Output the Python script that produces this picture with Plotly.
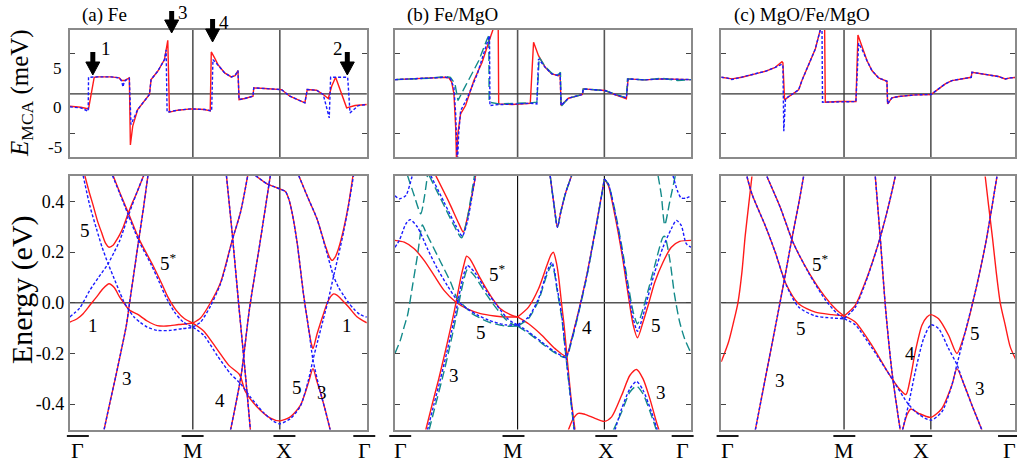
import plotly.graph_objects as go

# ---------------- data ----------------
KPOS = [0.0, 1.414, 2.414, 3.414]
KLABELS = ['Γ', 'M', 'X', 'Γ']
EMCA_TICKS = [-5, 5]
EMCA_LABELS = ['5', '0', '-5']
E_TICKS = [-0.4, -0.2, 0.0, 0.2, 0.4]
E_TICKTEXT = ['-0.4', '-0.2', '0.0', '0.2', '0.4']
PANEL_TITLES = ['(a) Fe', '(b) Fe/MgO', '(c) MgO/Fe/MgO']
ARROW_LABELS = ['1', '3', '4', '2']

# panel (a) top: E_MCA (meV)
A_TOP_RED = [(0, -1.54), (0.127, -1.67), (0.215, -1.875), (0.28, 2.08), (0.319, 2.13), (0.473, 2.13),
             (0.569, 2.0), (0.596, 1.67), (0.626, 1.67), (0.684, 2.0), (0.696, -6.4), (0.723, -4.04),
             (0.78, -1.96), (0.857, -0.92), (0.915, -0.08), (0.934, 1.79), (1.01, 2.83), (1.088, 4.29),
             (1.107, 5.3), (1.126, 6.7), (1.145, -2.29), (1.24, -2.04), (1.395, -1.875), (1.549, -1.96),
             (1.614, -2.125), (1.626, 5.25), (1.664, 4.5), (1.703, 3.67), (1.78, 2.625), (1.856, 2.125),
             (1.9, 2.29), (1.933, 2.92), (1.945, -0.71), (2.01, -0.58), (2.106, -0.29), (2.114, 0.75),
             (2.24, 0.67), (2.433, 0.54), (2.529, -0.29), (2.702, -1.125), (2.729, 0.54), (2.836, 0.46),
             (2.913, -0.08), (2.971, -0.58), (3.01, 0.96), (3.055, 2.08), (3.182, -1.75), (3.278, -1.46),
             (3.414, -1.33)]
A_TOP_BLUE = [(0, -1.63), (0.127, -1.75), (0.211, -2.17), (0.215, 2.08), (0.319, 2.13), (0.473, 2.13),
              (0.569, 2.0), (0.596, 1.58), (0.611, 0.875), (0.626, 1.58), (0.684, 2.0), (0.703, -3.83),
              (0.78, -1.96), (0.857, -0.92), (0.915, -0.08), (0.934, 1.79), (1.01, 2.83), (1.088, 4.29),
              (1.107, 5.5), (1.118, -2.29), (1.24, -2.04), (1.395, -1.875), (1.549, -1.96), (1.63, -2.125),
              (1.645, 4.29), (1.703, 3.6), (1.78, 2.625), (1.856, 2.125), (1.9, 2.29), (1.933, 2.92),
              (1.945, -0.71), (2.01, -0.58), (2.106, -0.29), (2.114, 0.75), (2.24, 0.67), (2.433, 0.54),
              (2.529, -0.29), (2.702, -1.125), (2.729, 0.54), (2.836, 0.46), (2.913, -0.08), (2.982, -3.0),
              (2.998, 2.08), (3.194, 2.08), (3.221, -2.375), (3.317, -1.46), (3.414, -1.33)]

# panel (b) top
B_TOP_RED = [(0, 1.79), (0.203, 1.875), (0.394, 1.96), (0.585, 2.08), (0.623, 2.0), (0.654, 1.46),
             (0.68, 0.0), (0.70, -4.17), (0.711, -9.0), (0.725, -5.0), (0.757, -2.5), (0.814, -1.46),
             (0.91, 1.67), (1.005, 3.96), (1.1, 7.08), (1.16, 9.0), (1.19, 9.0), (1.196, -1.25),
             (1.35, -1.33), (1.56, -1.17), (1.598, 6.46), (1.655, 4.79), (1.732, 3.33), (1.808, 2.5),
             (1.885, 2.29), (1.904, 2.58), (1.915, -1.46), (2.0, -0.54), (2.114, -0.21), (2.16, -0.08),
             (2.171, 0.625), (2.305, 0.5), (2.42, 0.42), (2.534, -0.08), (2.668, -0.625), (2.687, 1.875),
             (2.878, 1.75), (3.07, 1.875), (3.26, 1.79), (3.414, 1.79)]
B_TOP_BLUE = [(0, 1.79), (0.203, 1.875), (0.394, 1.96), (0.585, 2.08), (0.64, 1.9), (0.68, 0.8),
              (0.70, -2.5), (0.72, -9.0), (0.735, -5.0), (0.757, -2.1), (0.83, -0.6), (0.95, 2.5),
              (1.045, 5.8), (1.09, 7.3), (1.095, -1.46), (1.196, -1.33), (1.35, -1.3), (1.56, -1.17),
              (1.636, -1.25), (1.655, 4.375), (1.732, 3.33), (1.808, 2.5), (1.885, 2.29), (1.904, 2.58),
              (1.915, -1.46), (2.0, -0.54), (2.114, -0.21), (2.16, -0.08), (2.171, 0.625), (2.305, 0.5),
              (2.42, 0.42), (2.534, -0.08), (2.668, -0.5), (2.687, 1.875), (2.878, 1.75), (3.07, 1.875),
              (3.26, 1.79), (3.414, 1.79)]
B_TOP_TEAL = [(0, 1.79), (0.203, 1.875), (0.394, 1.96), (0.585, 2.17), (0.64, 2.08), (0.692, 1.25),
              (0.727, -0.83), (0.795, 0.625), (0.967, 4.17), (1.063, 6.875), (1.082, 7.3), (1.086, -1.04),
              (1.196, -1.25), (1.56, -1.125), (1.636, -1.04), (1.663, 4.58), (1.732, 3.42), (1.808, 2.58),
              (1.885, 2.42), (1.908, 2.7), (1.915, -1.58), (2.0, -0.54), (2.114, -0.21), (2.16, -0.08),
              (2.171, 0.625), (2.305, 0.5), (2.42, 0.42), (2.534, 0.0), (2.668, -0.5), (2.68, 1.875),
              (2.878, 1.75), (3.07, 1.96), (3.26, 1.67), (3.414, 1.79)]

# panel (c) top
C_TOP_RED = [(0, 2.08), (0.065, 2.0), (0.123, 1.875), (0.238, 2.08), (0.392, 2.5), (0.507, 2.83),
             (0.622, 3.33), (0.699, 4.04), (0.71, 3.9), (0.729, -0.75), (0.795, -0.21), (0.891, 0.5),
             (0.929, 1.67), (1.006, 3.54), (1.083, 5.625), (1.14, 8.0), (1.17, 9.0), (1.19, 9.0),
             (1.198, -1.04), (1.351, -0.96), (1.551, -0.96), (1.574, 7.375), (1.62, 5.83), (1.678, 4.17),
             (1.735, 2.92), (1.812, 2.0), (1.908, 1.58), (1.916, -1.25), (1.965, -0.5), (2.042, -0.33),
             (2.234, -0.125), (2.415, -0.08), (2.503, 0.625), (2.58, 1.25), (2.656, 1.67), (2.81, 2.0),
             (2.879, 2.08), (2.887, 2.71), (3.002, 2.5), (3.194, 2.17), (3.271, 1.875), (3.328, 2.0),
             (3.414, 2.08)]
C_TOP_BLUE = [(0, 2.08), (0.065, 2.0), (0.123, 1.8), (0.238, 2.08), (0.392, 2.5), (0.507, 2.83),
              (0.622, 3.33), (0.699, 3.7), (0.71, 3.6), (0.72, -4.67), (0.74, -0.6), (0.795, -0.21),
              (0.891, 0.5), (0.929, 1.67), (1.006, 3.54), (1.083, 5.625), (1.14, 8.0), (1.16, 9.0),
              (1.166, -1.04), (1.351, -0.96), (1.551, -0.96), (1.582, 6.33), (1.62, 5.6), (1.678, 4.17),
              (1.735, 2.92), (1.812, 2.0), (1.908, 1.58), (1.916, -1.25), (1.965, -0.5), (2.042, -0.33),
              (2.234, -0.125), (2.415, -0.08), (2.503, 0.625), (2.58, 1.25), (2.656, 1.67), (2.81, 2.0),
              (2.879, 2.08), (2.887, 2.71), (3.002, 2.5), (3.194, 2.17), (3.271, 1.875), (3.328, 2.0),
              (3.414, 2.08)]

# panel (a) bands (eV)
A_RED_LOW = [(0, -0.076), (0.08, -0.064), (0.153, -0.043), (0.23, -0.01), (0.306, 0.022), (0.38, 0.055),
             (0.451, 0.075), (0.51, 0.06), (0.573, 0.022), (0.63, -0.005), (0.688, -0.03), (0.776, -0.045),
             (0.89, -0.072), (1.005, -0.09), (1.08, -0.092), (1.158, -0.09), (1.25, -0.086),
             (1.35, -0.083), (1.414, -0.08)]
A_RED_UP = [(0.172, 0.502), (0.22, 0.44), (0.268, 0.384), (0.32, 0.32), (0.363, 0.279), (0.41, 0.235),
            (0.451, 0.219), (0.5, 0.228), (0.535, 0.246), (0.575, 0.27), (0.612, 0.297), (0.669, 0.351),
            (0.72, 0.395), (0.765, 0.43), (0.849, 0.502)]
A_BLUE_1 = [(0, -0.056), (0.115, -0.02), (0.229, 0.049), (0.33, 0.1), (0.44, 0.154), (0.51, 0.2),
            (0.573, 0.245), (0.62, 0.29), (0.68, 0.35), (0.765, 0.43), (0.849, 0.502)]
A_BLUE_5 = [(0.153, 0.502), (0.229, 0.384), (0.306, 0.292), (0.37, 0.22), (0.44, 0.154), (0.51, 0.095),
            (0.573, 0.042), (0.62, 0.005), (0.669, -0.024), (0.738, -0.056), (0.81, -0.078),
            (0.89, -0.096), (1.005, -0.109), (1.158, -0.109), (1.292, -0.102), (1.414, -0.098)]
A_RED_5S = [(0.497, 0.502), (0.58, 0.43), (0.669, 0.357), (0.803, 0.246), (0.956, 0.147), (1.05, 0.08),
            (1.128, 0.022), (1.223, -0.03), (1.319, -0.063), (1.414, -0.08)]
A_BLUE_5S = [(0.49, 0.502), (0.575, 0.43), (0.66, 0.357), (0.79, 0.246), (0.94, 0.147), (1.03, 0.08),
             (1.105, 0.022), (1.2, -0.035), (1.3, -0.075), (1.414, -0.096)]
A_BAND3 = [(0.394, -0.5), (0.46, -0.395), (0.528, -0.29), (0.59, -0.19), (0.65, -0.089), (0.687, 0.0),
           (0.74, 0.125), (0.788, 0.239), (0.845, 0.37), (0.898, 0.502)]
A_RED_MUP = [(1.414, -0.08), (1.503, -0.06), (1.617, 0.0), (1.732, 0.079), (1.80, 0.16), (1.866, 0.246),
             (1.962, 0.357), (2.045, 0.502)]
A_BLUE_MUP = [(1.414, -0.096), (1.503, -0.076), (1.617, -0.013), (1.732, 0.075), (1.80, 0.155),
              (1.866, 0.246), (1.962, 0.357), (2.045, 0.502)]
A_RED_MLOW = [(1.414, -0.08), (1.541, -0.112), (1.694, -0.184), (1.828, -0.247), (1.95, -0.283),
              (2.018, -0.35), (2.153, -0.411), (2.306, -0.455), (2.414, -0.466), (2.535, -0.45),
              (2.65, -0.405), (2.745, -0.313), (2.795, -0.26), (2.84, -0.31), (2.879, -0.352),
              (2.937, -0.424), (2.994, -0.503)]
A_BLUE_MLOW = [(1.414, -0.096), (1.541, -0.129), (1.694, -0.208), (1.847, -0.28), (1.962, -0.319),
               (2.076, -0.372), (2.229, -0.434), (2.344, -0.468), (2.414, -0.477), (2.535, -0.457),
               (2.65, -0.408), (2.745, -0.302), (2.795, -0.225), (2.85, -0.15), (2.91, -0.07),
               (2.97, 0.01), (3.032, 0.105), (3.09, 0.19), (3.147, 0.28), (3.205, 0.385), (3.261, 0.502)]
A_STEEP1 = [(1.80, 0.502), (1.865, 0.279), (1.945, -0.02), (2.02, -0.29), (2.076, -0.503)]
A_STEEP2 = [(2.305, 0.502), (2.187, 0.239), (2.065, -0.024), (1.969, -0.286), (1.847, -0.503)]
A_RED_XI = [(2.133, 0.502), (2.267, 0.469), (2.362, 0.456), (2.414, 0.449), (2.478, 0.439), (2.516, 0.41),
            (2.554, 0.357), (2.612, 0.239), (2.688, 0.029), (2.745, -0.102), (2.775, -0.16),
            (2.795, -0.181), (2.84, -0.125), (2.9, -0.06), (2.96, 0.0), (3.0, 0.025), (3.032, 0.035),
            (3.07, 0.03), (3.109, 0.018), (3.205, -0.017), (3.3, -0.055), (3.414, -0.079)]
A_BLUE_XI = [(2.133, 0.502), (2.267, 0.469), (2.362, 0.456), (2.414, 0.449), (2.478, 0.439), (2.516, 0.41),
             (2.554, 0.357), (2.612, 0.239), (2.688, 0.029), (2.745, -0.102), (2.795, -0.225),
             (2.879, -0.352), (2.937, -0.424), (2.994, -0.503)]
A_RED_XIII = [(2.631, 0.502), (2.726, 0.423), (2.841, 0.331), (2.937, 0.225), (2.985, 0.18),
              (3.015, 0.167), (3.05, 0.18), (3.09, 0.215), (3.147, 0.29), (3.205, 0.39), (3.255, 0.502)]
A_BLUE_XIII = [(2.631, 0.502), (2.726, 0.423), (2.841, 0.331), (2.937, 0.219), (3.032, 0.105),
               (3.09, 0.06), (3.147, 0.029), (3.205, 0.0), (3.262, -0.024), (3.33, -0.045), (3.414, -0.057)]

# panel (b) bands
B_RED_1 = [(0, 0.246), (0.107, 0.239), (0.222, 0.213), (0.336, 0.167), (0.451, 0.108), (0.566, 0.049),
           (0.70, 0.003), (0.834, -0.024), (0.986, -0.043), (1.15, -0.052), (1.3, -0.056), (1.414, -0.056)]
B_BLUE_1 = [(0, 0.219), (0.05, 0.246), (0.126, 0.311), (0.176, 0.328), (0.26, 0.298), (0.375, 0.213),
            (0.49, 0.134), (0.604, 0.068), (0.719, 0.009), (0.834, -0.024), (0.95, -0.048),
            (1.082, -0.069), (1.273, -0.087), (1.414, -0.087)]
B_TEAL_1 = [(0, -0.2), (0.06, -0.15), (0.11, -0.09), (0.145, -0.05), (0.203, 0.068), (0.26, 0.187),
            (0.317, 0.307), (0.36, 0.275), (0.413, 0.239), (0.528, 0.16), (0.642, 0.081), (0.711, 0.022),
            (0.81, -0.017), (0.89, -0.043), (1.082, -0.076), (1.273, -0.092), (1.414, -0.092)]
B_RED_2 = [(0.355, -0.502), (0.43, -0.4), (0.505, -0.3), (0.575, -0.2), (0.635, -0.11), (0.68, -0.04),
           (0.72, 0.03), (0.76, 0.1), (0.795, 0.15), (0.826, 0.184), (0.86, 0.175), (0.89, 0.158),
           (0.986, 0.095), (1.1, 0.029), (1.216, -0.024), (1.35, -0.05), (1.414, -0.056)]
B_BLUE_2 = [(0.375, -0.502), (0.45, -0.4), (0.525, -0.3), (0.595, -0.2), (0.655, -0.11), (0.70, -0.04),
            (0.74, 0.03), (0.78, 0.095), (0.834, 0.147), (0.88, 0.135), (0.93, 0.115), (1.063, 0.042),
            (1.177, -0.011), (1.29, -0.06), (1.36, -0.078), (1.414, -0.087)]
B_TEAL_2 = [(0.394, -0.502), (0.47, -0.4), (0.545, -0.3), (0.615, -0.2), (0.672, -0.11), (0.715, -0.04),
            (0.755, 0.03), (0.79, 0.085), (0.834, 0.131), (0.88, 0.12), (0.93, 0.1), (1.06, 0.03),
            (1.177, -0.025), (1.29, -0.07), (1.36, -0.085), (1.414, -0.092)]
B_RED_V = [(0.47, 0.502), (0.623, 0.397), (0.738, 0.311), (0.788, 0.279), (0.84, 0.344), (0.902, 0.449),
           (0.929, 0.502)]
B_BLUE_V = [(0.413, 0.502), (0.566, 0.397), (0.70, 0.305), (0.776, 0.263), (0.834, 0.318), (0.89, 0.423),
            (0.929, 0.502)]
B_TEAL_V = [(0.394, 0.502), (0.547, 0.397), (0.68, 0.305), (0.768, 0.256), (0.826, 0.318), (0.88, 0.423),
            (0.917, 0.502)]
B_BLUE_TL = [(0, 0.422), (0.05, 0.41), (0.126, 0.423), (0.18, 0.476), (0.2, 0.502)]
B_TEAL_TL = [(0.145, 0.502), (0.222, 0.423), (0.298, 0.351), (0.336, 0.41), (0.375, 0.502)]
B_RED_3 = [(1.414, -0.056), (1.54, -0.017), (1.655, 0.055), (1.751, 0.147), (1.8, 0.19), (1.827, 0.199),
           (1.86, 0.16), (1.885, 0.107), (1.923, -0.01), (1.95, -0.089), (1.98, -0.2), (2.03, -0.377),
           (2.076, -0.502)]
B_BLUE_3 = [(1.414, -0.087), (1.54, -0.056), (1.655, 0.016), (1.751, 0.121), (1.808, 0.16), (1.84, 0.125),
            (1.865, 0.068), (1.923, -0.05), (1.967, -0.194), (2.03, -0.39), (2.068, -0.502)]
B_TEAL_3 = [(1.414, -0.092), (1.54, -0.062), (1.655, 0.008), (1.751, 0.11), (1.808, 0.149), (1.84, 0.115),
            (1.865, 0.058), (1.923, -0.06), (1.967, -0.2), (2.03, -0.395), (2.065, -0.502)]
B_RED_4 = [(1.414, -0.056), (1.54, -0.083), (1.693, -0.128), (1.846, -0.181), (1.972, -0.21),
           (2.037, -0.142), (2.114, -0.037), (2.21, 0.107), (2.305, 0.278), (2.374, 0.409), (2.414, 0.488)]
B_BLUE_4 = [(1.414, -0.087), (1.54, -0.115), (1.693, -0.155), (1.846, -0.194), (1.972, -0.214),
            (2.037, -0.145), (2.114, -0.04), (2.21, 0.105), (2.305, 0.276), (2.374, 0.407), (2.414, 0.488)]
B_TEAL_4 = [(1.414, -0.092), (1.54, -0.12), (1.693, -0.16), (1.846, -0.198), (1.972, -0.216),
            (2.037, -0.15), (2.114, -0.045), (2.21, 0.1), (2.305, 0.272), (2.374, 0.405), (2.414, 0.488)]
B_V2 = [(1.789, 0.502), (1.835, 0.383), (1.873, 0.298), (1.911, 0.357), (1.969, 0.435), (2.037, 0.502)]
B_RED_XG = [(2.414, 0.488), (2.46, 0.463), (2.536, 0.344), (2.613, 0.2), (2.69, 0.029), (2.747, -0.089),
            (2.796, -0.138), (2.86, -0.076), (2.918, -0.011), (2.995, 0.081), (3.09, 0.16), (3.186, 0.219),
            (3.282, 0.242), (3.414, 0.246)]
B_BLUE_XG = [(2.414, 0.488), (2.46, 0.468), (2.536, 0.357), (2.613, 0.213), (2.69, 0.048), (2.747, -0.063),
             (2.796, -0.113), (2.86, -0.05), (2.918, 0.026), (2.995, 0.121), (3.09, 0.219), (3.186, 0.292),
             (3.243, 0.325), (3.3, 0.305), (3.358, 0.233), (3.414, 0.219)]
B_TEAL_XG = [(2.414, 0.488), (2.46, 0.468), (2.536, 0.364), (2.613, 0.226), (2.69, 0.068), (2.747, -0.037),
             (2.796, -0.083), (2.86, -0.024), (2.918, 0.048), (2.995, 0.147), (3.09, 0.259), (3.11, 0.262),
             (3.167, 0.173), (3.224, 0.029), (3.282, -0.076), (3.339, -0.142), (3.414, -0.2)]
B_TEAL_TR = [(3.033, 0.502), (3.071, 0.423), (3.11, 0.307), (3.167, 0.397), (3.232, 0.502)]
B_BLUE_TR = [(3.205, 0.502), (3.255, 0.443), (3.3, 0.413), (3.358, 0.413), (3.414, 0.423)]
B_RED_XB = [(1.999, -0.502), (2.057, -0.456), (2.114, -0.436), (2.19, -0.44), (2.305, -0.456),
            (2.414, -0.468), (2.498, -0.45), (2.613, -0.365), (2.709, -0.286), (2.785, -0.263),
            (2.86, -0.3), (2.938, -0.378), (3.014, -0.47), (3.045, -0.503)]
B_BLUE_XB = [(2.536, -0.503), (2.613, -0.418), (2.709, -0.339), (2.785, -0.31), (2.86, -0.345),
             (2.957, -0.431), (3.026, -0.503)]
B_TEAL_XB = [(2.517, -0.503), (2.613, -0.431), (2.709, -0.352), (2.785, -0.329), (2.86, -0.36),
             (2.976, -0.464), (3.014, -0.503)]

# panel (c) bands
C_RED_1L = [(0, -0.233), (0.084, -0.155), (0.142, -0.076), (0.192, 0.0), (0.238, 0.121), (0.276, 0.265),
            (0.315, 0.383), (0.353, 0.498)]
C_RED_1R = [(3.04, 0.498), (3.079, 0.383), (3.125, 0.252), (3.167, 0.121), (3.213, 0.0), (3.271, -0.089),
            (3.328, -0.174), (3.414, -0.24)]
C_RED_5 = [(0.296, 0.498), (0.353, 0.429), (0.507, 0.304), (0.622, 0.199), (0.745, 0.075), (0.891, -0.004),
           (1.083, -0.037), (1.275, -0.047), (1.414, -0.052)]
C_BLUE_5 = [(0.296, 0.498), (0.353, 0.429), (0.507, 0.304), (0.622, 0.199), (0.745, 0.072), (0.891, -0.017),
            (1.083, -0.052), (1.275, -0.06), (1.414, -0.063)]
C_RED_5S = [(0.526, 0.498), (0.68, 0.376), (0.826, 0.239), (1.006, 0.121), (1.198, 0.022), (1.332, -0.03),
            (1.414, -0.052)]
C_BLUE_5S = [(0.526, 0.498), (0.68, 0.376), (0.826, 0.239), (1.006, 0.118), (1.198, 0.012), (1.332, -0.042),
             (1.414, -0.063)]
C_BAND3 = [(0.392, -0.502), (0.507, -0.299), (0.622, -0.096), (0.718, 0.075), (0.806, 0.239),
           (0.891, 0.389), (0.948, 0.498)]
C_RED_MUP = [(1.414, -0.052), (1.543, -0.01), (1.658, 0.081), (1.75, 0.17), (1.831, 0.258), (1.927, 0.383),
             (2.004, 0.498)]
C_BLUE_MUP = [(1.414, -0.063), (1.543, -0.018), (1.658, 0.076), (1.75, 0.168), (1.831, 0.258),
              (1.927, 0.383), (2.004, 0.498)]
C_STEEP = [(1.774, 0.498), (1.831, 0.258), (1.889, -0.01), (1.966, -0.273), (2.061, -0.502)]
C_RED_X1 = [(1.414, -0.052), (1.543, -0.076), (1.735, -0.168), (1.927, -0.279), (2.042, -0.336),
            (2.127, -0.362), (2.177, -0.299), (2.234, -0.194), (2.311, -0.089), (2.369, -0.056),
            (2.415, -0.047), (2.503, -0.063), (2.618, -0.128), (2.714, -0.2), (2.81, -0.115),
            (2.925, 0.042), (3.04, 0.225), (3.175, 0.498)]
C_RED_X2 = [(2.088, -0.502), (2.138, -0.443), (2.184, -0.419), (2.273, -0.436), (2.415, -0.452),
            (2.541, -0.417), (2.656, -0.325), (2.714, -0.26), (2.791, -0.318), (2.887, -0.404),
            (3.002, -0.502)]
C_BLUE_X1 = [(1.414, -0.063), (1.543, -0.087), (1.735, -0.178), (1.965, -0.299), (2.157, -0.401),
             (2.273, -0.44), (2.415, -0.463), (2.541, -0.43), (2.656, -0.325), (2.714, -0.244),
             (2.81, -0.115), (2.925, 0.042), (3.04, 0.225), (3.175, 0.498)]
C_BLUE_X2 = [(2.088, -0.502), (2.157, -0.401), (2.234, -0.273), (2.33, -0.142), (2.415, -0.087),
             (2.503, -0.102), (2.618, -0.181), (2.714, -0.244), (2.791, -0.318), (2.887, -0.404),
             (3.002, -0.502)]

# ---------------- figure ----------------
RED = '#ff1a1a'
BLUE = '#1a1aff'
TEAL = '#138a8a'
FONT = '"Liberation Serif", "Times New Roman", Times, serif'

fig = go.Figure()


def add(pts, n, color, dash='solid', width=1.4, shape='spline'):
    xs = [p[0] for p in pts]
    ys = [p[1] for p in pts]
    sfx = '' if n == 1 else str(n)
    fig.add_trace(go.Scatter(x=xs, y=ys, mode='lines',
                             line=dict(color=color, dash=dash, width=width, shape=shape, smoothing=0.7),
                             xaxis='x' + sfx, yaxis='y' + sfx, hoverinfo='skip'))


BDASH = '3px,2px'
TDASH = '9px,4px'

# top panels (linear)
add(A_TOP_RED, 1, RED, shape='linear')
add(A_TOP_BLUE, 1, BLUE, BDASH, shape='linear')
add(B_TOP_RED, 2, RED, shape='linear')
add(B_TOP_TEAL, 2, TEAL, TDASH, shape='linear')
add(B_TOP_BLUE, 2, BLUE, BDASH, shape='linear')
add(C_TOP_RED, 3, RED, shape='linear')
add(C_TOP_BLUE, 3, BLUE, BDASH, shape='linear')

# panel a bands
for c in [A_RED_LOW, A_RED_UP, A_RED_5S, A_BAND3, A_RED_MUP, A_RED_MLOW, A_STEEP1, A_STEEP2,
          A_RED_XI, A_RED_XIII]:
    add(c, 4, RED)
for c in [A_BLUE_1, A_BLUE_5, A_BLUE_5S, A_BAND3, A_BLUE_MUP, A_BLUE_MLOW, A_STEEP1, A_STEEP2,
          A_BLUE_XI, A_BLUE_XIII]:
    add(c, 4, BLUE, BDASH)

# panel b bands
for c in [B_RED_1, B_RED_2, B_RED_V, B_RED_3, B_RED_4, B_V2, B_RED_XG, B_RED_XB]:
    add(c, 5, RED)
for c in [B_TEAL_1, B_TEAL_2, B_TEAL_V, B_TEAL_TL, B_TEAL_3, B_TEAL_4, B_V2, B_TEAL_XG, B_TEAL_TR,
          B_TEAL_XB]:
    add(c, 5, TEAL, TDASH)
for c in [B_BLUE_1, B_BLUE_2, B_BLUE_V, B_BLUE_TL, B_BLUE_3, B_BLUE_4, B_V2, B_BLUE_XG, B_BLUE_TR,
          B_BLUE_XB]:
    add(c, 5, BLUE, BDASH)

# panel c bands
for c in [C_RED_1L, C_RED_1R, C_RED_5, C_RED_5S, C_BAND3, C_RED_MUP, C_STEEP, C_RED_X1, C_RED_X2]:
    add(c, 6, RED)
for c in [C_BLUE_5, C_BLUE_5S, C_BAND3, C_BLUE_MUP, C_STEEP, C_BLUE_X1, C_BLUE_X2]:
    add(c, 6, BLUE, BDASH)

XDOM = [[0.0688, 0.3614], [0.3891, 0.6809], [0.7106, 1.0]]
XRANGE = [[0, 3.414], [0, 3.414], [0, 3.383]]
YDOM_TOP = [0.6624, 0.9355]
YDOM_BOT = [0.0763, 0.6215]
FRAME = '#8a8a8a'

layout = dict(width=1017, height=465, margin=dict(l=0, r=0, t=0, b=0),
              paper_bgcolor='white', plot_bgcolor='white', showlegend=False,
              hovermode=False, font=dict(family=FONT, color='black'))
shapes = []
for i in range(6):
    n = i + 1
    sfx = '' if n == 1 else str(n)
    col = i % 3
    top = i < 3
    layout['xaxis' + sfx] = dict(domain=XDOM[col], range=XRANGE[col], showgrid=False, zeroline=False,
                                 showticklabels=False, ticks='', showline=True, mirror=True,
                                 linecolor=FRAME, linewidth=2, anchor='y' + sfx, fixedrange=True)
    ydict = dict(domain=YDOM_TOP if top else YDOM_BOT, showgrid=False, zeroline=False,
                 showline=True, mirror='ticks', linecolor=FRAME, linewidth=2, ticks='inside',
                 ticklen=5, tickwidth=1, tickcolor='#444', anchor='x' + sfx, fixedrange=True)
    if top:
        ydict.update(range=[-7.9, 8.0], tickvals=EMCA_TICKS, showticklabels=False)
    else:
        ydict.update(range=[-0.5, 0.5], tickvals=E_TICKS, ticktext=E_TICKTEXT,
                     showticklabels=(col == 0), tickfont=dict(size=18, family=FONT))
    layout['yaxis' + sfx] = ydict
    for k in KPOS[1:3]:
        shapes.append(dict(type='line', xref='x' + sfx, yref='y' + sfx + ' domain', x0=k, x1=k, y0=0, y1=1,
                           line=dict(color='#555' if top else 'black', width=1.6 if top else 1.1),
                           layer='below'))
    shapes.append(dict(type='line', xref='x' + sfx + ' domain', yref='y' + sfx, x0=0, x1=1, y0=0, y1=0,
                       line=dict(color='#333' if top else '#555', width=1.3 if top else 1.6), layer='below'))

W, H = 1017.0, 465.0


def px(x):
    return x / W


def py(y):
    return 1 - y / H


def text(t, x, y, size, xanchor='center', angle=0):
    return dict(text=t, x=px(x), y=py(y), xref='paper', yref='paper', xanchor=xanchor,
                yanchor='middle', showarrow=False, textangle=angle,
                font=dict(size=size, family=FONT, color='black'))


ann = []
for t, xl in zip(PANEL_TITLES, [80, 406, 733]):
    ann.append(text(t, xl, 15, 19, 'left'))
ann.append(text('<i>E</i><sub>MCA</sub> (meV)', 22, 93, 25, 'center', -90))
ann.append(text('Energy (eV)', 22, 289, 30, 'center', -90))
for t, yy in zip(EMCA_LABELS, [68, 107, 147]):
    ann.append(text(t, 64, yy, 17, 'right'))

KLAB_X = [[78, 193, 285, 365], [401, 514.5, 607.5, 684], [729, 846, 923, 1011]]
for row in KLAB_X:
    for lab, xx in zip(KLABELS, row):
        ann.append(text(lab, xx, 450, 22))
        shapes.append(dict(type='line', xref='paper', yref='paper', x0=px(xx - 11), x1=px(xx + 11),
                           y0=py(436), y1=py(436), line=dict(color='black', width=1.8)))

BAND_LAB = [('5', 85, 230), ('5<sup>*</sup>', 158, 262, 'l'), ('1', 93, 325), ('3', 127, 378),
            ('4', 220, 400), ('5', 298, 387), ('3', 323, 392), ('1', 348, 325),
            ('5<sup>*</sup>', 488, 273, 'l'), ('5', 482, 332), ('3', 455, 375), ('4', 588, 327),
            ('5', 657, 325), ('3', 662, 392),
            ('5<sup>*</sup>', 812, 263, 'l'), ('5', 803, 328), ('3', 782, 380), ('4', 912, 353),
            ('5', 977, 333), ('3', 982, 388)]
for b in BAND_LAB:
    ann.append(text(b[0], b[1], b[2], 19, 'left' if len(b) > 3 else 'center'))

# thick down arrows in panel (a) top: (x, tip y, tail y, label x, label y)
ARROWS = [(93, 75, 52, 106, 48), (172, 33, 11, 183, 13), (213, 42, 19, 224, 22), (348, 75, 52, 339, 48)]
for lab, (ax_, tip, tail, lx, ly) in zip(ARROW_LABELS, ARROWS):
    shapes.append(dict(type='line', xref='paper', yref='paper', x0=px(ax_), x1=px(ax_),
                       y0=py(tail), y1=py(tip - 11), line=dict(color='black', width=5)))
    path = 'M {:.5f},{:.5f} L {:.5f},{:.5f} L {:.5f},{:.5f} Z'.format(
        px(ax_ - 7), py(tip - 13), px(ax_ + 7), py(tip - 13), px(ax_), py(tip))
    shapes.append(dict(type='path', xref='paper', yref='paper', path=path,
                       fillcolor='black', line=dict(color='black', width=1)))
    ann.append(text(lab, lx, ly, 19))

layout['annotations'] = ann
layout['shapes'] = shapes
fig.update_layout(**layout)
fig.write_html('out.html', config={'displayModeBar': False, 'staticPlot': True},
               post_script="document.body.style.margin='0';document.body.style.overflow='hidden';")
